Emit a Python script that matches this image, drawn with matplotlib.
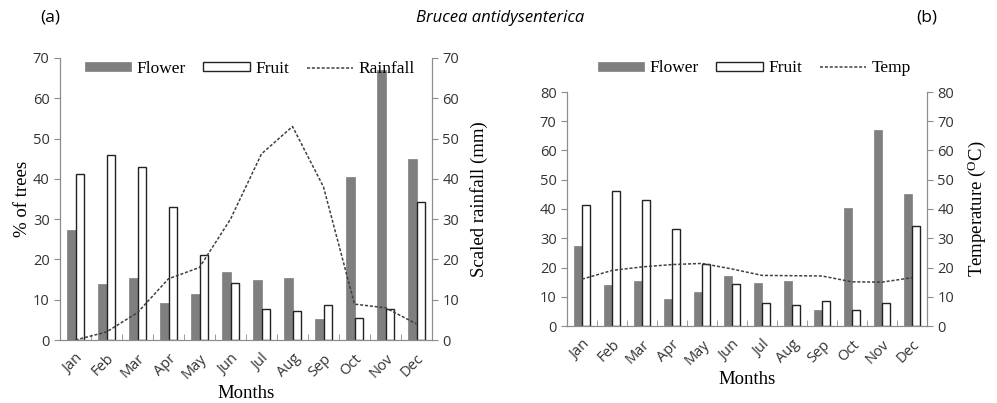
import matplotlib.pyplot as plt
import numpy as np

months = ["Jan", "Feb", "Mar", "Apr", "May", "Jun",
          "Jul", "Aug", "Sep", "Oct", "Nov", "Dec"]
flower = [27.3, 14.0, 15.5, 9.3, 11.5, 17.0, 14.8, 15.5, 5.3, 40.5, 67.0, 45.0]
fruit = [41.3, 46.0, 43.0, 33.0, 21.2, 14.2, 7.8, 7.1, 8.6, 5.4, 7.8, 34.3]
rainfall = [0.0, 2.0, 6.8, 15.2, 18.0, 30.0, 46.2, 53.0, 38.0, 8.9, 8.0, 4.0]
temp = [16.0, 19.0, 20.2, 21.0, 21.4, 19.5, 17.3, 17.2, 17.1, 15.1, 15.0, 16.5]

SERIF = "Liberation Serif"
SANS = "Open Sans"
GRAY = "#7f7f7f"
SPINE = "#8c8c8c"
LINE = "#404040"

x = np.arange(len(months))
w = 0.28

legend_kw = dict(ncol=3, frameon=False, prop={"family": SERIF, "size": 12.5},
                 handlelength=2.7, handleheight=0.45, columnspacing=1.0,
                 handletextpad=0.3)


def draw_panel(ax, ymax, line_vals, line_name, right_label):
    b1 = ax.bar(x - w / 2, flower, w, color=GRAY, edgecolor=GRAY, linewidth=0.5, label="Flower")
    b2 = ax.bar(x + w / 2, fruit, w, color="white", edgecolor="#222222", linewidth=1.0, label="Fruit")
    ax.set_xlim(-0.5, len(months) - 0.5)
    ax.set_ylim(0, ymax)
    ax.set_yticks(np.arange(0, ymax + 1, 10))

    ax2 = ax.twinx()
    ln, = ax2.plot(x, line_vals, color=LINE, linestyle=(0, (2, 1.2)), linewidth=1.1, label=line_name)
    ax2.set_ylim(0, ymax)
    ax2.set_yticks(np.arange(0, ymax + 1, 10))

    for a in (ax, ax2):
        for s in a.spines.values():
            s.set_color(SPINE)
        a.spines["top"].set_visible(False)
        a.tick_params(axis="y", colors=SPINE, labelcolor="#333333", length=4, labelsize=10.5)
        for t in a.get_yticklabels():
            t.set_fontfamily(SANS)

    ax.set_xticks(x)
    ax.set_xticklabels(months, rotation=45, ha="right", rotation_mode="anchor",
                       fontfamily=SANS, fontsize=10.5, color="#333333")
    ax.tick_params(axis="x", which="major", length=0, pad=8)
    ax.set_xticks(np.arange(0.5, len(months) - 0.5, 1), minor=True)
    ax.tick_params(axis="x", which="minor", direction="in", length=4, color=SPINE)

    ax.set_xlabel("Months", fontfamily=SERIF, fontsize=13.5, labelpad=2)
    ax2.set_ylabel(right_label, fontfamily=SERIF, fontsize=13.5, labelpad=8)
    return [b1, b2, ln]


fig = plt.figure(figsize=(9.97, 4.03), dpi=100)

ax_a = fig.add_axes([60 / 997, 63 / 403, 372 / 997, 282 / 403])
h = draw_panel(ax_a, 70, rainfall, "Rainfall", "Scaled rainfall (mm)")
ax_a.set_ylabel("% of trees", fontfamily=SERIF, fontsize=13.5, labelpad=1)
ax_a.legend(h, ["Flower", "Fruit", "Rainfall"], loc="upper center",
            bbox_to_anchor=(0.51, 1.045), **legend_kw)

ax_b = fig.add_axes([567 / 997, 77 / 403, 360 / 997, 234 / 403])
h = draw_panel(ax_b, 80, temp, "Temp", "Temperature ($\\mathregular{^{O}}$C)")
ax_b.legend(h, ["Flower", "Fruit", "Temp"], loc="lower center",
            bbox_to_anchor=(0.52, 1.0), **legend_kw)

fig.text(40 / 997, 1 - 18 / 403, "(a)", fontfamily=SANS, fontsize=12.5, va="center")
fig.text(500 / 997, 1 - 18 / 403, "Brucea antidysenterica", fontfamily=SANS,
         fontstyle="italic", fontsize=12, ha="center", va="center")
fig.text(916 / 997, 1 - 18 / 403, "(b)", fontfamily=SANS, fontsize=12.5, va="center")

fig.savefig("out.png", dpi=100)
